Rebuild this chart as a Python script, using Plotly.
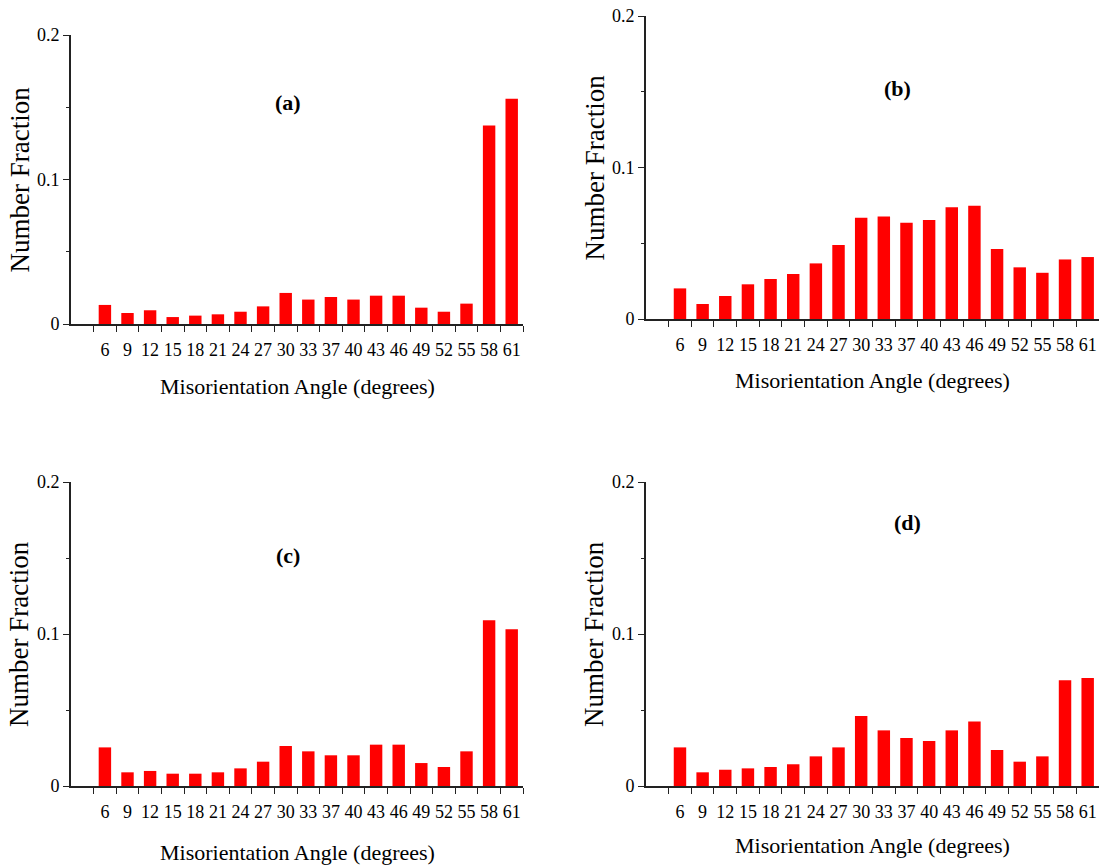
import plotly.graph_objects as go

angles = ["6", "9", "12", "15", "18", "21", "24", "27", "30", "33", "37",
          "40", "43", "46", "49", "52", "55", "58", "61"]

frac_a = [0.0132, 0.0076, 0.0095, 0.0048, 0.0058, 0.0067, 0.0085, 0.0122, 0.0215, 0.0169,
          0.0187, 0.0169, 0.0196, 0.0196, 0.0113, 0.0085, 0.0141, 0.1374, 0.1559]
frac_b = [0.0202, 0.0099, 0.0152, 0.0229, 0.0264, 0.0297, 0.0367, 0.0488, 0.0668, 0.0677,
          0.0635, 0.0653, 0.0738, 0.0747, 0.0462, 0.0341, 0.0305, 0.0393, 0.0409]
frac_c = [0.0254, 0.0090, 0.0099, 0.0081, 0.0081, 0.0090, 0.0116, 0.0160, 0.0263, 0.0228,
          0.0202, 0.0202, 0.0272, 0.0272, 0.0151, 0.0125, 0.0228, 0.1090, 0.1031]
frac_d = [0.0254, 0.0090, 0.0107, 0.0116, 0.0125, 0.0143, 0.0195, 0.0254, 0.0461, 0.0366,
          0.0316, 0.0296, 0.0366, 0.0425, 0.0237, 0.0160, 0.0195, 0.0695, 0.0711]

panel_labels = ["(a)", "(b)", "(c)", "(d)"]
y_tick_vals = [0, 0.1, 0.2]
y_tick_text = ["0", "0.1", "0.2"]
x_title = "Misorientation Angle (degrees)"
y_title = "Number Fraction"

W, H = 1101, 867
FONT = "Liberation Serif, Times New Roman, serif"
AX = "#222222"

def px(x):
    return x / W

def py(y):
    return 1 - y / H

# pixel geometry of each panel: (x_left, x_right, y_top(0.2), y_zero)
geom = [
    (71, 523, 35, 324),
    (646, 1099, 16, 319),
    (71, 523, 482, 786),
    (646, 1099, 482, 786),
]
label_pos = [(288, 103), (897, 88), (288, 555), (907, 522)]
xtitle_y = [386, 380, 852, 845]

fig = go.Figure()
series = [frac_a, frac_b, frac_c, frac_d]
annotations = []
n_cat = len(angles)
for i, (vals, g) in enumerate(zip(series, geom)):
    n = "" if i == 0 else str(i + 1)
    fig.add_trace(go.Bar(x=angles, y=vals, marker_color="#FF0000",
                         marker_line_width=0, xaxis="x" + n, yaxis="y" + n,
                         showlegend=False))
    xl, xr, yt, y0 = g
    fig.layout["xaxis" + n] = dict(
        domain=[px(xl), px(xr)], anchor="y" + n, type="category",
        range=[-1.5, n_cat - 0.5], tickson="boundaries", ticks="outside", ticklen=6,
        tickwidth=1.3, tickcolor=AX, showline=True, linecolor=AX, linewidth=1.6,
        showgrid=False, zeroline=False, tickangle=0, ticklabelstandoff=9,
        tickfont=dict(family=FONT, size=18, color="black"))
    fig.layout["yaxis" + n] = dict(
        domain=[py(y0), py(yt)], anchor="x" + n, range=[0, 0.2],
        tickvals=y_tick_vals, ticktext=y_tick_text, ticks="outside", ticklen=6,
        tickwidth=1.3, tickcolor=AX, showline=True, linecolor=AX, linewidth=1.6,
        showgrid=False, zeroline=False,
        minor=dict(tickvals=[0.05, 0.15], ticks="outside", ticklen=3, tickcolor=AX,
                   tickwidth=1, showgrid=False),
        tickfont=dict(family=FONT, size=18, color="black"))
    # overlay axes to give crossing tick marks
    k = str(i + 5)
    fig.layout["xaxis" + k] = dict(
        overlaying="x" + n, anchor="y" + n, range=[-1.5, n_cat - 0.5],
        tickvals=[j - 0.5 for j in range(n_cat + 1)], ticks="inside", ticklen=5,
        tickwidth=1.3, tickcolor=AX, showticklabels=False, showline=False,
        showgrid=False, zeroline=False)
    fig.layout["yaxis" + k] = dict(
        overlaying="y" + n, anchor="x" + n, range=[0, 0.2],
        tickvals=[0, 0.05, 0.1, 0.15, 0.2], ticks="inside", ticklen=4,
        tickwidth=1.3, tickcolor=AX, showticklabels=False, showline=False,
        showgrid=False, zeroline=False)
    # x title
    annotations.append(dict(text=x_title, x=px((xl + xr) / 2), y=py(xtitle_y[i]),
                            xref="paper", yref="paper", showarrow=False,
                            xanchor="center", yanchor="middle",
                            font=dict(family=FONT, size=22, color="black")))
    # y title
    annotations.append(dict(text=y_title, x=px(xl - 52), y=py((yt + y0) / 2),
                            xref="paper", yref="paper", showarrow=False, textangle=-90,
                            xanchor="center", yanchor="middle",
                            font=dict(family=FONT, size=27, color="black")))
    lx, ly = label_pos[i]
    annotations.append(dict(text="<b>" + panel_labels[i] + "</b>", x=px(lx), y=py(ly),
                            xref="paper", yref="paper", showarrow=False,
                            xanchor="center", yanchor="middle",
                            font=dict(family=FONT, size=22, color="black")))

fig.update_layout(width=W, height=H,
                  margin=dict(l=0, r=0, t=0, b=0, pad=0, autoexpand=False),
                  paper_bgcolor="white", plot_bgcolor="white", bargap=0.45,
                  annotations=annotations, font=dict(family=FONT))
fig.write_html("out.html")
